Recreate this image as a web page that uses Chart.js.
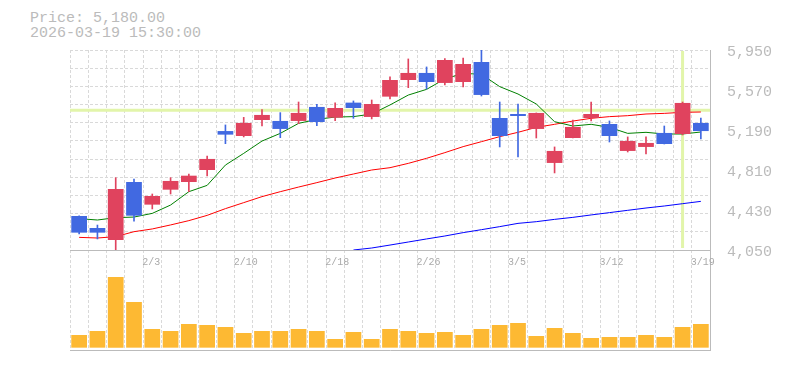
<!DOCTYPE html>
<html>
<head>
<meta charset="utf-8">
<title>Stock chart</title>
<script src="https://cdn.jsdelivr.net/npm/chart.js@4.4.1/dist/chart.umd.min.js"></script>
<style>
    html, body { margin: 0; padding: 0; background: #fff; }
    #wrap { position: relative; width: 785px; height: 370px; overflow: hidden; }
    .info { position: absolute; left: 30px; font: 15px 'Liberation Mono', monospace; line-height: 15px; color: #bbb; white-space: pre; }
    #priceChart { position: absolute; left: 0; top: 0; z-index: 2; }
    #volumeChart { position: absolute; left: 0; top: 250px; z-index: 1; }
</style>
</head>
<body>
<div id="wrap">
    <div class="info" style="top:11px">Price: 5,180.00</div>
    <div class="info" style="top:26px">2026-03-19 15:30:00</div>
    <canvas id="priceChart" width="785" height="290"></canvas>
    <canvas id="volumeChart" width="785" height="120"></canvas>
</div>
<script>
// trading days shown on the chart
const dates = ['1/28', '1/29', '1/30', '2/2', '2/3', '2/4', '2/5', '2/6', '2/9', '2/10',
    '2/12', '2/13', '2/16', '2/17', '2/18', '2/19', '2/20', '2/24', '2/25', '2/26',
    '2/27', '3/2', '3/3', '3/4', '3/5', '3/6', '3/9', '3/10', '3/11', '3/12',
    '3/13', '3/16', '3/17', '3/18', '3/19'];
const shownTicks = ['2/3', '2/10', '2/18', '2/26', '3/5', '3/12', '3/19'];

const opens  = [4373, 4259, 4145, 4696, 4481, 4623, 4696, 4810, 5180, 5133,
    5285, 5276, 5276, 5409, 5307, 5450, 5314, 5507, 5665, 5732,
    5637, 5646, 5836, 5304, 5342, 5200, 4877, 5114, 5304, 5247,
    4991, 5029, 5162, 5152, 5257];
const highs  = [4375, 4287, 4737, 4724, 4582, 4737, 4772, 4943, 5238, 5310,
    5383, 5355, 5456, 5434, 5447, 5466, 5475, 5694, 5865, 5789,
    5868, 5874, 5950, 5456, 5437, 5352, 5029, 5285, 5456, 5276,
    5124, 5124, 5228, 5456, 5304];
const lows   = [4202, 4155, 4050, 4325, 4440, 4582, 4604, 4753, 5060, 5124,
    5228, 5117, 5250, 5231, 5279, 5301, 5295, 5485, 5592, 5580,
    5618, 5599, 5513, 5029, 4934, 5114, 4782, 5114, 5276, 5076,
    4981, 4962, 5057, 5143, 5105];
const closes = [4215, 4215, 4630, 4376, 4563, 4706, 4756, 4915, 5146, 5257,
    5333, 5200, 5352, 5266, 5399, 5399, 5437, 5665, 5732, 5646,
    5855, 5817, 5523, 5133, 5323, 5352, 4991, 5219, 5342, 5133,
    5086, 5067, 5057, 5447, 5180];

// moving averages (5 / 25 / 75 days)
const ma5  = [4348, 4335, 4357, 4363, 4398, 4477, 4604, 4664, 4857, 4968,
    5085, 5158, 5253, 5291, 5313, 5317, 5342, 5428, 5522, 5576,
    5675, 5728, 5719, 5602, 5532, 5437, 5269, 5228, 5244, 5215,
    5158, 5168, 5152, 5152, 5171];
const ma25 = [4170, 4164, 4177, 4224, 4250, 4288, 4329, 4379, 4443, 4500,
    4557, 4604, 4648, 4690, 4734, 4772, 4810, 4832, 4873, 4921,
    4975, 5032, 5079, 5127, 5168, 5215, 5244, 5275, 5301, 5317,
    5326, 5342, 5348, 5358, 5361];
const ma75 = [null, null, null, null, null, null, null, null, null, null,
    null, null, null, null, null, 4050, 4069, 4097, 4126, 4155,
    4183, 4215, 4243, 4272, 4303, 4319, 4341, 4360, 4383, 4405,
    4427, 4449, 4468, 4490, 4512];

// volume, thousand shares
const volumes = [380, 500, 2120, 1370, 560, 500, 710, 680, 620, 440,
    500, 500, 560, 500, 260, 470, 260, 560, 500, 440,
    470, 380, 560, 680, 740, 350, 590, 440, 290, 320,
    320, 380, 320, 620, 710];

const priceTicks = [4050, 4430, 4810, 5190, 5570, 5950];

// crosshair position
const crossIndex = 33;
const crossPrice = 5377;

const upColor = 'rgb(224, 67, 94)';
const downColor = 'rgb(65, 105, 225)';
const gridColor = '#d9d9d9';
const axisColor = '#bbb';
const fontFamily = "'Liberation Mono', monospace";

const candleColors = opens.map((o, i) => closes[i] >= o ? upColor : downColor);

const crosshairPlugin = {
    id: 'crosshair',
    beforeDatasetsDraw(chart) {
        const { ctx, chartArea, scales } = chart;
        const x = scales.x.getPixelForValue(crossIndex);
        const y = scales.y.getPixelForValue(crossPrice);
        ctx.save();
        ctx.strokeStyle = 'rgb(226, 245, 170)';
        ctx.lineWidth = 3;
        ctx.beginPath();
        ctx.moveTo(chartArea.left, y);
        ctx.lineTo(chartArea.right, y);
        ctx.moveTo(x, chartArea.top + 1);
        ctx.lineTo(x, chartArea.bottom - 2);
        ctx.stroke();
        ctx.restore();
    }
};

new Chart(document.getElementById('priceChart'), {
    data: {
        labels: dates,
        datasets: [
            {
                type: 'bar',
                label: 'Body',
                data: opens.map((o, i) => [o, closes[i]]),
                backgroundColor: candleColors,
                grouped: false,
                categoryPercentage: 1,
                barPercentage: 0.86,
                order: 0
            },
            {
                type: 'bar',
                label: 'Wick',
                data: lows.map((l, i) => [l, highs[i]]),
                backgroundColor: candleColors,
                grouped: false,
                barThickness: 1,
                order: 1
            },
            {
                type: 'line', label: 'MA5', data: ma5,
                borderColor: '#008000', borderWidth: 1, pointRadius: 0, order: 2
            },
            {
                type: 'line', label: 'MA25', data: ma25,
                borderColor: '#ff0000', borderWidth: 1, pointRadius: 0, order: 3
            },
            {
                type: 'line', label: 'MA75', data: ma75,
                borderColor: '#0000ff', borderWidth: 1, pointRadius: 0, order: 4
            }
        ]
    },
    options: {
        responsive: false,
        animation: false,
        layout: { padding: { left: 70, top: 50, right: 0, bottom: 0 } },
        plugins: {
            legend: { display: false },
            tooltip: { enabled: false }
        },
        scales: {
            x: {
                type: 'category',
                offset: true,
                grid: { offset: true, color: gridColor, drawTicks: false },
                border: { display: true, color: axisColor, dash: [3, 2] },
                ticks: {
                    autoSkip: false,
                    maxRotation: 0,
                    align: 'start',
                    labelOffset: -10,
                    padding: 6,
                    color: '#aaa',
                    font: { family: fontFamily, size: 10 },
                    callback: (v, i) => shownTicks.includes(dates[i]) ? dates[i] : ''
                },
                afterFit: s => { s.height = 40; }
            },
            y: {
                position: 'right',
                min: priceTicks[0],
                max: priceTicks[priceTicks.length - 1],
                afterBuildTicks: s => { s.ticks = priceTicks.map(v => ({ value: v })); },
                grid: { display: false },
                border: { display: true, color: axisColor },
                ticks: {
                    padding: 9,
                    labelOffset: 2,
                    color: axisColor,
                    font: { family: fontFamily, size: 15 },
                    callback: v => v.toLocaleString('en-US')
                },
                afterFit: s => { s.width = 75; }
            },
            yg: {
                position: 'left',
                min: 0,
                max: 11,
                ticks: { display: false, stepSize: 1 },
                grid: { color: gridColor, drawTicks: false },
                border: { display: false, dash: [3, 2] },
                afterFit: s => { s.width = 0; }
            }
        }
    },
    plugins: [crosshairPlugin]
});

new Chart(document.getElementById('volumeChart'), {
    type: 'bar',
    data: {
        labels: dates,
        datasets: [{
            label: 'Volume',
            data: volumes,
            backgroundColor: 'rgb(253, 185, 51)',
            categoryPercentage: 1,
            barPercentage: 0.86
        }]
    },
    options: {
        responsive: false,
        animation: false,
        layout: { padding: { left: 70, top: 0, right: 0, bottom: 20 } },
        plugins: {
            legend: { display: false },
            tooltip: { enabled: false }
        },
        scales: {
            x: {
                grid: { offset: true, color: gridColor, drawTicks: false },
                border: { display: true, color: axisColor, dash: [3, 2] },
                ticks: { display: false },
                afterFit: s => { s.height = 0; }
            },
            y: {
                position: 'right',
                min: -70,
                max: 2930,
                grid: { display: false },
                border: { display: true, color: axisColor },
                ticks: { display: false },
                afterFit: s => { s.width = 75; }
            }
        }
    }
});
</script>
</body>
</html>
